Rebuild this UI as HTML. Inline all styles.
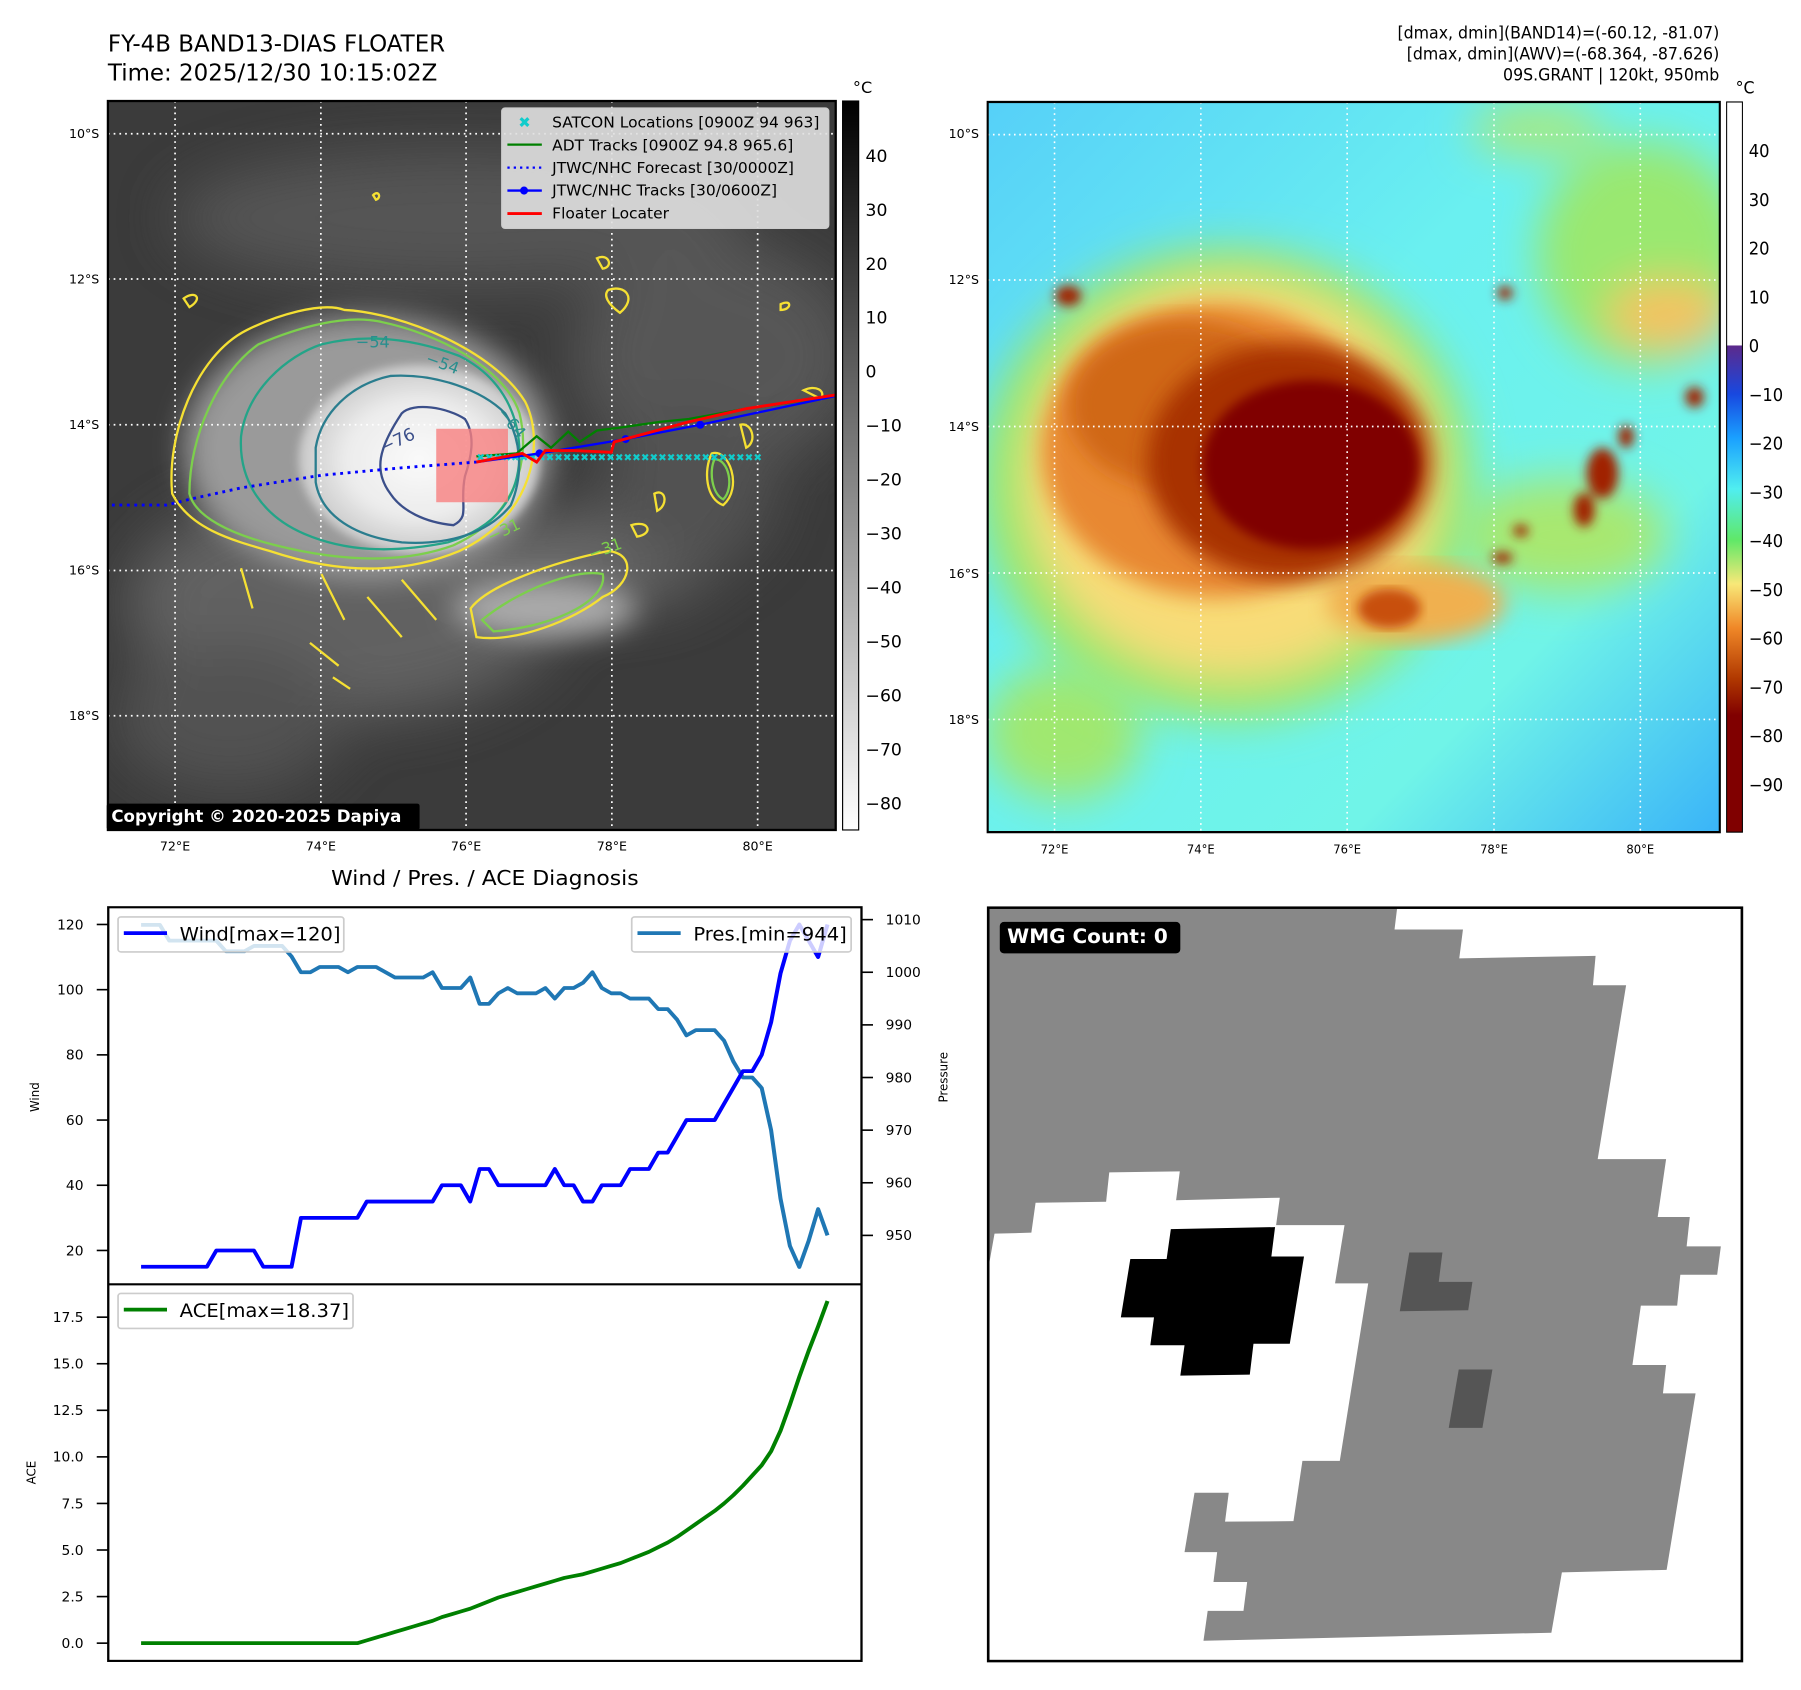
<!DOCTYPE html>
<html><head><meta charset="utf-8">
<style>
html,body{margin:0;padding:0;background:#fff;}
body{width:1801px;height:1690px;position:relative;overflow:hidden;font-family:"DejaVu Sans","Liberation Sans",sans-serif;}
svg{position:absolute;overflow:visible;}
text{font-family:"DejaVu Sans","Liberation Sans",sans-serif;}
</style></head>
<body>

<!-- LEFT MAP -->
<svg style="left:0;top:0" width="900" height="900" viewBox="0 0 1568 1568">
<defs>
<filter id="b8"><feGaussianBlur stdDeviation="8"/></filter>
<filter id="b25"><feGaussianBlur stdDeviation="25"/></filter>
<filter id="b50"><feGaussianBlur stdDeviation="50"/></filter>
<clipPath id="lc"><rect x="188" y="176" width="1268" height="1270"/></clipPath>
<radialGradient id="core" cx="0.5" cy="0.5" r="0.5"><stop offset="0" stop-color="#fafafa"/><stop offset="0.6" stop-color="#ececec"/><stop offset="1" stop-color="#c8c8c8"/></radialGradient>
<linearGradient id="cbg" x1="0" y1="0" x2="0" y2="1"><stop offset="0" stop-color="#000"/><stop offset="1" stop-color="#fff"/></linearGradient>
</defs>
<text x="188" y="90" font-size="40">FY-4B BAND13-DIAS FLOATER</text>
<text x="188" y="140" font-size="40">Time: 2025/12/30 10:15:02Z</text>
<g clip-path="url(#lc)">
<rect x="188" y="176" width="1268" height="1270" fill="#3b3b3b"/>
<g filter="url(#b50)" opacity="0.9">
<ellipse cx="800" cy="380" rx="500" ry="120" fill="#585858"/>
<ellipse cx="1250" cy="620" rx="250" ry="200" fill="#5a5a5a"/>
<ellipse cx="600" cy="1050" rx="380" ry="200" fill="#666"/>
<ellipse cx="1000" cy="980" rx="250" ry="80" fill="#707070"/>
<ellipse cx="400" cy="1250" rx="200" ry="130" fill="#555"/>
<ellipse cx="1200" cy="850" rx="150" ry="150" fill="#555"/>
</g>
<g filter="url(#b25)">
<ellipse cx="640" cy="780" rx="320" ry="230" fill="#9a9a9a"/>
<ellipse cx="950" cy="1060" rx="160" ry="50" fill="#aaa"/>
</g>
<ellipse cx="730" cy="800" rx="210" ry="165" fill="url(#core)" filter="url(#b8)"/>
<g stroke="#fff" stroke-width="3" stroke-dasharray="3 7">
<line x1="305" y1="176" x2="305" y2="1446"/><line x1="559" y1="176" x2="559" y2="1446"/><line x1="812" y1="176" x2="812" y2="1446"/><line x1="1066" y1="176" x2="1066" y2="1446"/><line x1="1320" y1="176" x2="1320" y2="1446"/>
<line x1="188" y1="233" x2="1456" y2="233"/><line x1="188" y1="486" x2="1456" y2="486"/><line x1="188" y1="740" x2="1456" y2="740"/><line x1="188" y1="994" x2="1456" y2="994"/><line x1="188" y1="1247" x2="1456" y2="1247"/>
</g>
<g fill="none" stroke-width="4">
<path stroke="#f5e033" d="M300,860 C290,760 340,620 430,575 C480,550 560,525 600,540 C700,545 860,610 915,700 C950,770 930,900 800,960 C680,1010 560,990 470,960 C400,940 330,920 300,860 Z"/>
<path stroke="#f5e033" d="M820,1060 C850,1020 960,980 1060,960 C1110,965 1100,1020 1050,1040 C1000,1080 900,1120 830,1110 Z"/>
<path stroke="#f5e033" d="M420,990 L440,1060 M560,1000 L600,1080 M640,1040 L700,1110 M540,1120 L590,1160 M580,1180 L610,1200 M700,1010 L760,1080"/>
<path stroke="#f5e033" d="M1040,450 C1060,440 1070,465 1050,468 Z M1060,505 C1090,495 1110,520 1080,545 C1060,530 1050,515 1060,505 Z M1400,680 C1420,670 1440,680 1430,695 Z M1240,790 C1270,780 1295,850 1260,880 C1230,870 1225,820 1240,790 Z M1140,860 C1160,850 1165,880 1145,890 Z M1100,915 C1130,905 1140,930 1110,935 Z M320,520 C340,505 355,520 330,535 Z M1290,740 C1310,735 1320,770 1300,780 Z M1360,530 C1380,520 1380,540 1360,540 Z M650,340 C660,330 665,345 655,348 Z"/>
<path stroke="#7ccf4c" d="M330,860 C330,760 380,650 450,600 C520,570 600,548 660,560 C760,580 880,640 905,720 C925,800 900,900 790,950 C680,990 560,970 480,950 C400,930 340,900 330,860 Z"/>
<path stroke="#7ccf4c" d="M840,1080 C900,1030 1000,990 1050,1000 C1060,1040 980,1090 860,1100 Z M1245,800 C1270,800 1280,850 1260,870 C1240,860 1235,820 1245,800 Z"/>
<path stroke="#24a488" d="M420,760 C430,680 500,620 560,600 C640,580 720,590 800,620 C880,660 905,730 905,790 C905,870 860,920 780,945 C680,965 600,960 530,930 C460,900 415,840 420,760 Z"/>
<path stroke="#2a7d8e" d="M550,780 C560,720 610,670 680,655 C760,650 840,680 880,720 C905,760 915,820 890,880 C850,930 780,950 700,945 C620,935 560,900 550,840 Z"/>
<path stroke="#3b4f8a" d="M700,720 C720,700 780,710 810,730 C830,760 820,800 810,830 C800,880 820,900 790,915 C740,910 700,890 680,860 C650,820 660,780 700,720 Z"/>
</g>
<g fill="#3b4f8a" font-size="30"><text x="668" y="790" transform="rotate(-25 668 790)">−76</text></g>
<g fill="#2a8e8e" font-size="28"><text x="620" y="605">−54</text><text x="740" y="632" transform="rotate(20 740 632)">−54</text><text x="865" y="720" transform="rotate(50 865 720)">−64</text></g>
<g fill="#7ccf4c" font-size="28"><text x="855" y="945" transform="rotate(-25 855 945)">−31</text><text x="1030" y="975" transform="rotate(-20 1030 975)">−31</text></g>
<rect x="760" y="747" width="125" height="128" fill="#f87f7f" opacity="0.8"/>
<polyline fill="none" stroke="#0000ff" stroke-width="5" stroke-dasharray="5 8" points="195,880 290,880 330,870 420,850 560,828 700,815 830,805"/>
<polyline fill="none" stroke="#008000" stroke-width="4" points="830,795 900,790 935,760 960,780 990,752 1010,770 1040,750 1080,745 1150,735 1200,730 1300,712 1456,690"/>
<g fill="#1cc" font-size="18"><text x="830" y="803">✖✖✖✖✖✖✖✖✖✖✖✖✖✖✖✖✖✖✖✖✖✖✖✖✖✖✖✖✖✖✖✖✖</text></g>
<polyline fill="none" stroke="#0000ff" stroke-width="4" points="830,805 940,790 1090,765 1220,740 1456,690"/>
<g fill="#0000ff"><circle cx="940" cy="790" r="7"/><circle cx="1090" cy="765" r="7"/><circle cx="1220" cy="740" r="7"/></g>
<polyline fill="none" stroke="#ff0000" stroke-width="5" points="830,805 910,790 935,805 950,785 1000,785 1065,788 1070,770 1200,735 1300,712 1456,688"/>
</g>
<rect x="188" y="176" width="1268" height="1270" fill="none" stroke="#000" stroke-width="4"/>
<g>
<rect x="874" y="188" width="570" height="210" rx="6" fill="#e0e0e0" fill-opacity="0.9" stroke="#ccc" stroke-width="2"/>
<text x="903" y="222" font-size="26" fill="#1cc">✖</text>
<line x1="884" y1="252" x2="944" y2="252" stroke="#008000" stroke-width="4"/>
<line x1="884" y1="292" x2="944" y2="292" stroke="#0000ff" stroke-width="4" stroke-dasharray="4 7"/>
<line x1="884" y1="332" x2="944" y2="332" stroke="#0000ff" stroke-width="4"/><circle cx="913" cy="332" r="7" fill="#0000ff"/>
<line x1="884" y1="372" x2="944" y2="372" stroke="#ff0000" stroke-width="5"/>
<g font-size="27" fill="#000"><text x="962" y="222">SATCON Locations [0900Z 94 963]</text><text x="962" y="262">ADT Tracks [0900Z 94.8 965.6]</text><text x="962" y="301">JTWC/NHC Forecast [30/0000Z]</text><text x="962" y="341">JTWC/NHC Tracks [30/0600Z]</text><text x="962" y="381">Floater Locater</text></g>
</g>
<rect x="186" y="1400" width="545" height="46" rx="4" fill="#000"/>
<text x="194" y="1432" font-size="29" font-weight="bold" fill="#fff">Copyright © 2020-2025 Dapiya</text>
<g font-size="22" fill="#000" text-anchor="end"><text x="173" y="240">10°S</text><text x="173" y="494">12°S</text><text x="173" y="747">14°S</text><text x="173" y="1001">16°S</text><text x="173" y="1254">18°S</text></g>
<g font-size="22" fill="#000" text-anchor="middle"><text x="305" y="1482">72°E</text><text x="559" y="1482">74°E</text><text x="812" y="1482">76°E</text><text x="1066" y="1482">78°E</text><text x="1320" y="1482">80°E</text></g>
<rect x="1468" y="176" width="28" height="1270" fill="url(#cbg)" stroke="#000" stroke-width="2"/>
<text x="1486" y="162" font-size="28">°C</text>
<g font-size="30" fill="#000"><text x="1508" y="282">40</text><text x="1508" y="376">30</text><text x="1508" y="470">20</text><text x="1508" y="564">10</text><text x="1508" y="658">0</text><text x="1508" y="752">−10</text><text x="1508" y="846">−20</text><text x="1508" y="940">−30</text><text x="1508" y="1034">−40</text><text x="1508" y="1128">−50</text><text x="1508" y="1222">−60</text><text x="1508" y="1316">−70</text><text x="1508" y="1410">−80</text></g>
</svg>

<!-- RIGHT MAP -->
<svg style="left:984px;top:0" width="820" height="942" viewBox="0 0 1558 1672" preserveAspectRatio="none">
<defs>
<clipPath id="rc"><rect x="7" y="181" width="1391" height="1296"/></clipPath>
<filter id="rb10"><feGaussianBlur stdDeviation="10"/></filter>
<filter id="rb20"><feGaussianBlur stdDeviation="20"/></filter>
<filter id="rb40"><feGaussianBlur stdDeviation="40"/></filter>
<linearGradient id="rbg" x1="0" y1="0" x2="1" y2="1"><stop offset="0" stop-color="#56d0f8"/><stop offset="0.4" stop-color="#6af0f0"/><stop offset="0.75" stop-color="#70f4e8"/><stop offset="1" stop-color="#3ab4f8"/></linearGradient>
<linearGradient id="rcb" x1="0" y1="0" x2="0" y2="1"><stop offset="0" stop-color="#fff"/><stop offset="0.333" stop-color="#fff"/><stop offset="0.334" stop-color="#5c2a8c"/><stop offset="0.40" stop-color="#1848e0"/><stop offset="0.46" stop-color="#1aa0ff"/><stop offset="0.53" stop-color="#50eef0"/><stop offset="0.60" stop-color="#60e868"/><stop offset="0.66" stop-color="#f8e878"/><stop offset="0.72" stop-color="#f08828"/><stop offset="0.79" stop-color="#b03800"/><stop offset="0.84" stop-color="#800000"/><stop offset="1" stop-color="#800000"/></linearGradient>
</defs>
<g font-size="30" fill="#000" text-anchor="end"><text x="1397" y="68">[dmax, dmin](BAND14)=(-60.12, -81.07)</text><text x="1397" y="106">[dmax, dmin](AWV)=(-68.364, -87.626)</text><text x="1397" y="143">09S.GRANT | 120kt, 950mb</text></g>
<g clip-path="url(#rc)">
<rect x="7" y="181" width="1391" height="1296" fill="url(#rbg)"/>
<g filter="url(#rb40)">
<ellipse cx="1250" cy="450" rx="200" ry="200" fill="#9ae870"/>
<ellipse cx="1300" cy="560" rx="120" ry="60" fill="#f8c060"/>
<ellipse cx="1050" cy="230" rx="130" ry="40" fill="#b0e870"/>
<ellipse cx="150" cy="1300" rx="150" ry="120" fill="#a0e870"/>
<ellipse cx="1100" cy="950" rx="200" ry="100" fill="#a8e870"/>
</g>
<ellipse cx="460" cy="860" rx="470" ry="420" fill="#9ae86c" filter="url(#rb40)"/>
<ellipse cx="470" cy="850" rx="400" ry="360" fill="#f8dc78" filter="url(#rb40)"/>
<ellipse cx="820" cy="1070" rx="170" ry="70" fill="#f0b050" filter="url(#rb20)"/>
<ellipse cx="770" cy="1080" rx="60" ry="35" fill="#c85010" filter="url(#rb10)"/>
<ellipse cx="440" cy="800" rx="330" ry="260" fill="#e88830" filter="url(#rb20)"/>
<ellipse cx="380" cy="720" rx="220" ry="150" fill="#d06818" filter="url(#rb20)"/>
<ellipse cx="580" cy="820" rx="270" ry="210" fill="#a83000" filter="url(#rb20)"/>
<ellipse cx="620" cy="825" rx="205" ry="150" fill="#800000" filter="url(#rb10)"/>
<g filter="url(#rb10)" fill="#a02000">
<ellipse cx="1175" cy="840" rx="30" ry="45"/><ellipse cx="1140" cy="905" rx="20" ry="30"/><ellipse cx="1220" cy="775" rx="15" ry="20"/><ellipse cx="1350" cy="705" rx="18" ry="18"/><ellipse cx="990" cy="520" rx="15" ry="12"/><ellipse cx="160" cy="525" rx="25" ry="18"/><ellipse cx="1020" cy="942" rx="15" ry="10"/><ellipse cx="985" cy="990" rx="20" ry="10"/>
</g>
<g stroke="#fff" stroke-width="3" stroke-dasharray="3 7">
<line x1="134" y1="181" x2="134" y2="1477"/><line x1="412" y1="181" x2="412" y2="1477"/><line x1="690" y1="181" x2="690" y2="1477"/><line x1="969" y1="181" x2="969" y2="1477"/><line x1="1247" y1="181" x2="1247" y2="1477"/>
<line x1="7" y1="239" x2="1398" y2="239"/><line x1="7" y1="497" x2="1398" y2="497"/><line x1="7" y1="757" x2="1398" y2="757"/><line x1="7" y1="1017" x2="1398" y2="1017"/><line x1="7" y1="1277" x2="1398" y2="1277"/>
</g>
</g>
<rect x="7" y="181" width="1391" height="1296" fill="none" stroke="#000" stroke-width="4"/>
<g font-size="22" fill="#000" text-anchor="middle"><text x="134" y="1515">72°E</text><text x="412" y="1515">74°E</text><text x="690" y="1515">76°E</text><text x="969" y="1515">78°E</text><text x="1247" y="1515">80°E</text></g>
<rect x="1411" y="181" width="30" height="1296" fill="url(#rcb)" stroke="#000" stroke-width="2"/>
<text x="1428" y="166" font-size="30">°C</text>
<g font-size="31" fill="#000"><text x="1453" y="279">40</text><text x="1453" y="366">30</text><text x="1453" y="452">20</text><text x="1453" y="539">10</text><text x="1453" y="625">0</text><text x="1453" y="712">−10</text><text x="1453" y="798">−20</text><text x="1453" y="885">−30</text><text x="1453" y="971">−40</text><text x="1453" y="1058">−50</text><text x="1453" y="1144">−60</text><text x="1453" y="1231">−70</text><text x="1453" y="1317">−80</text><text x="1453" y="1404">−90</text></g>
</svg>
<svg style="left:0;top:0" width="1801" height="900" viewBox="0 0 1801 900">
<g font-size="12.6" fill="#000" text-anchor="end"><text x="979" y="138">10°S</text><text x="979" y="284">12°S</text><text x="979" y="431">14°S</text><text x="979" y="578">16°S</text><text x="979" y="724">18°S</text></g>
</svg>

<!-- WMG PANEL -->
<svg style="left:984px;top:894px" width="820" height="761" viewBox="0 0 1558 1501" preserveAspectRatio="none">
<rect x="8" y="27" width="1432" height="1486" fill="#fff"/>
<polygon fill="#888" points="8,27 785,27 780,70 910,70 903,127 1162,122 1157,180 1220,180 1166,523 1296,523 1280,637 1341,637 1335,695 1400,695 1393,751 1323,751 1317,812 1248,812 1232,929 1296,929 1290,985 1352,985 1297,1333 1098,1338 1078,1457 417,1473 425,1414 493,1414 500,1357 436,1357 443,1298 381,1298 400,1181 465,1181 458,1238 588,1237 605,1118 676,1118 730,768 667,768 685,653 555,653 562,599 365,604 372,547 238,549 232,607 98,609 90,668 20,670 8,740"/>
<polygon fill="#000" points="355,661 553,657 546,715 608,715 581,887 512,887 505,948 373,950 381,890 316,890 323,835 260,835 278,720 347,720"/>
<polygon fill="#555" points="808,707 871,707 864,765 928,765 920,821 790,823"/>
<polygon fill="#555" points="902,938 966,938 947,1053 883,1053"/>
<rect x="8" y="27" width="1432" height="1486" fill="none" stroke="#000" stroke-width="5"/>
<rect x="30" y="55" width="343" height="62" rx="8" fill="#000"/>
<text x="44" y="97" font-size="38" font-weight="bold" fill="#fff">WMG Count: 0</text>
</svg>

<!-- DIAGNOSIS CHART -->
<svg id="diag" style="left:0;top:854px" width="983" height="787" viewBox="0 0 1707 1463" preserveAspectRatio="none"></svg>

<script>
const idx = [];
for (let i = 0; i < 74; i++) idx.push(i);
const windKt = [15,15,15,15,15,15,15,15,20,20,20,20,20,15,15,15,15,30,30,30,30,30,30,30,35,35,35,35,35,35,35,35,40,40,40,35,45,45,40,40,40,40,40,40,45,40,40,35,35,40,40,40,45,45,45,50,50,55,60,60,60,60,65,70,75,75,80,90,105,115,120,115,110,120];
const presMb = [1009,1009,1009,1006,1006,1006,1006,1006,1006,1004,1004,1004,1005,1005,1005,1005,1003,1000,1000,1001,1001,1001,1000,1001,1001,1001,1000,999,999,999,999,1000,997,997,997,999,994,994,996,997,996,996,996,997,995,997,997,998,1000,997,996,996,995,995,995,993,993,991,988,989,989,989,987,983,980,980,978,970,957,948,944,949,955,950];
const aceVal = [0,0,0,0,0,0,0,0,0,0,0,0,0,0,0,0,0,0,0,0,0,0,0,0,0.15,0.3,0.45,0.6,0.75,0.9,1.05,1.2,1.4,1.55,1.7,1.85,2.05,2.25,2.45,2.6,2.75,2.9,3.05,3.2,3.35,3.5,3.6,3.7,3.85,4.0,4.15,4.3,4.5,4.7,4.9,5.15,5.4,5.7,6.05,6.4,6.75,7.1,7.5,7.95,8.45,9.0,9.55,10.3,11.4,12.8,14.3,15.7,17.0,18.37];
const windTicks = [20,40,60,80,100,120];
const presTicks = [950,960,970,980,990,1000,1010];
const aceTicks = [0,2.5,5,7.5,10,12.5,15,17.5];
const aceTickLabels = ["0.0","2.5","5.0","7.5","10.0","12.5","15.0","17.5"];

const NS = "http://www.w3.org/2000/svg";
const svg = document.getElementById('diag');
const X = i => 245 + i * (1437 - 245) / 73;
const Yw = v => 737 - (v - 20) * (737 - 131) / 100;
const Yp = v => 709 - (v - 950) * (709 - 122) / 60;
const Ya = v => 1467 - v * (1467 - 861) / 17.5;
function el(tag, attrs, parent) {
  const e = document.createElementNS(NS, tag);
  for (const k in attrs) e.setAttribute(k, attrs[k]);
  (parent || svg).appendChild(e);
  return e;
}
let t = el('text', {x: 842, y: 58, 'font-size': 38, 'text-anchor': 'middle'});
t.textContent = 'Wind / Pres. / ACE Diagnosis';



windTicks.forEach(v => {
  el('line', {x1: 168, x2: 188, y1: Yw(v), y2: Yw(v), stroke: '#000', 'stroke-width': 3});
  const l = el('text', {x: 145, y: Yw(v) + 9, 'font-size': 24, 'text-anchor': 'end'}); l.textContent = v;
  
  
});
presTicks.forEach(v => {
  el('line', {x1: 1496, x2: 1516, y1: Yp(v), y2: Yp(v), stroke: '#000', 'stroke-width': 3});
  const l = el('text', {x: 1538, y: Yp(v) + 9, 'font-size': 24}); l.textContent = v;
  
  
});
aceTicks.forEach((v, k) => {
  el('line', {x1: 168, x2: 188, y1: Ya(v), y2: Ya(v), stroke: '#000', 'stroke-width': 3});
  const l = el('text', {x: 145, y: Ya(v) + 9, 'font-size': 24, 'text-anchor': 'end'}); l.textContent = aceTickLabels[k];
  
  
});
let yl = el('text', {x: 0, y: 0, 'font-size': 22, 'text-anchor': 'middle', transform: 'translate(68,452) rotate(-90)'}); yl.textContent = 'Wind';


yl = el('text', {x: 0, y: 0, 'font-size': 22, 'text-anchor': 'middle', transform: 'translate(62,1150) rotate(-90)'}); yl.textContent = 'ACE';


yl = el('text', {x: 0, y: 0, 'font-size': 22, 'text-anchor': 'middle', transform: 'translate(1645,415) rotate(-90)'}); yl.textContent = 'Pressure';



function line(vals, yf, color, w, name) {
  const p = el('polyline', {points: vals.map((v, i) => X(idx[i]) + ',' + yf(v)).join(' '), fill: 'none', stroke: color, 'stroke-width': w, 'stroke-linejoin': 'round'});
  
  
}
line(presMb, Yp, '#1f77b4', 7, 'pressure-line');
line(windKt, Yw, '#0000ff', 7, 'wind-line');
line(aceVal, Ya, '#008000', 7, 'ace-line');

el('rect', {x: 188, y: 99, width: 1308, height: 1401, fill: 'none', stroke: '#000', 'stroke-width': 4});
el('line', {x1: 188, x2: 1496, y1: 800, y2: 800, stroke: '#000', 'stroke-width': 4});

function legend(x, y, w, color, label, name) {
  const g = el('g', {});
  
  
  el('rect', {x: x, y: y, width: w, height: 65, rx: 5, fill: '#fff', 'fill-opacity': 0.8, stroke: '#ccc', 'stroke-width': 3}, g);
  el('line', {x1: x + 10, x2: x + 85, y1: y + 30, y2: y + 30, stroke: color, 'stroke-width': 7}, g);
  const tx = el('text', {x: x + 107, y: y + 44, 'font-size': 34}, g); tx.textContent = label;
}
legend(205, 117, 392, '#0000ff', 'Wind[max=120]', 'wind-legend');
legend(1097, 117, 381, '#1f77b4', 'Pres.[min=944]', 'pressure-legend');
legend(205, 817, 408, '#008000', 'ACE[max=18.37]', 'ace-legend');
</script>
</body></html>
